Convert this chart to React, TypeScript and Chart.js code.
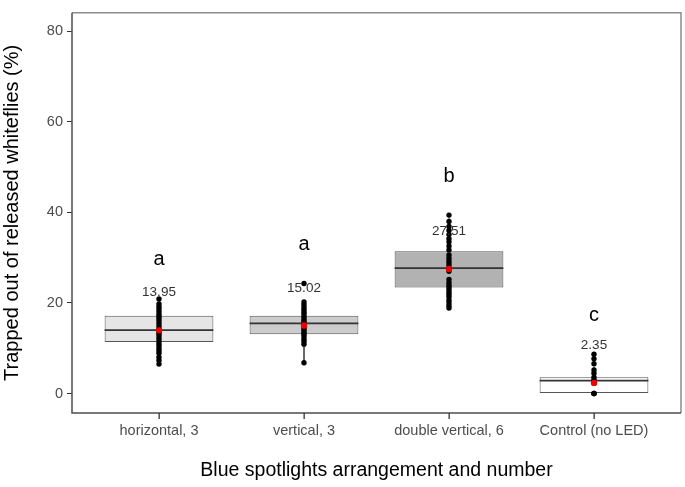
import { useEffect, useRef } from "react";
import { Chart, registerables } from "chart.js";

Chart.register(...registerables);

const categories = ["horizontal, 3", "vertical, 3", "double vertical, 6", "Control (no LED)"];
const groupLetters = ["a", "a", "b", "c"];
const means = [13.95, 15.02, 27.51, 2.35];
const q1 = [11.4, 13.1, 23.4, 0];
const medians = [14.0, 15.5, 27.7, 2.85];
const q3 = [17.2, 17.2, 31.4, 3.6];
const whiskerLow = [6.5, 6.8, 18.9, 0];
const whiskerHigh = [20.9, 20.2, 39.4, 8.7];
const maxPoints = [20.9, 24.3, 39.4, 8.7];

const pointsHorizontal = [20.9, 19.8, 19.2, 18.7, 18.1, 17.5, 17.0, 16.5, 16.0, 15.4, 14.8, 14.2, 13.7, 13.3, 12.8, 12.2, 11.6, 11.0, 10.5, 9.9, 9.4, 8.9, 8.0, 7.3, 6.5];
const pointsVertical = [24.3, 20.2, 19.6, 19.0, 18.5, 18.0, 17.6, 17.1, 16.7, 16.2, 15.8, 15.3, 14.9, 14.4, 14.0, 13.5, 13.1, 12.6, 12.0, 11.5, 10.9, 6.8];
const pointsDoubleVertical = [39.4, 38.0, 36.9, 36.0, 35.1, 34.2, 33.5, 32.6, 31.7, 30.6, 29.9, 29.2, 28.6, 28.0, 27.0, 25.2, 24.5, 23.9, 23.4, 22.9, 22.3, 21.8, 21.3, 20.6, 20.0, 19.4, 18.9];
const pointsControl = [8.7, 7.7, 6.6, 5.2, 4.5, 3.6, 3.0, 2.8, 2.5, 0, 0, 0];

const yTicks = [0, 20, 40, 60, 80];
const yMin = -4.3;
const yMax = 84.1;

const FONT = "'Liberation Sans', Arial, sans-serif";

const annotationPlugin = {
  id: "annotations",
  afterDraw(chart: any) {
    const { ctx, chartArea, scales } = chart;
    const xs = scales.x;
    const ys = scales.y;
    ctx.save();
    ctx.lineWidth = 1.5;
    ctx.strokeStyle = "#8c8c8c";
    ctx.beginPath();
    ctx.moveTo(chartArea.left, chartArea.top);
    ctx.lineTo(chartArea.right, chartArea.top);
    ctx.lineTo(chartArea.right, chartArea.bottom);
    ctx.stroke();
    ctx.strokeStyle = "#4d4d4d";
    ctx.beginPath();
    ctx.moveTo(chartArea.left, chartArea.top);
    ctx.lineTo(chartArea.left, chartArea.bottom);
    ctx.lineTo(chartArea.right, chartArea.bottom);
    ctx.stroke();

    // x-axis tick marks
    ctx.fillStyle = "#333333";
    categories.forEach((_, i) => {
      const px = Math.round(xs.getPixelForValue(i + 1));
      ctx.fillRect(px - 0.5, Math.round(chartArea.bottom), 1.3, 6);
    });

    ctx.textAlign = "center";
    ctx.textBaseline = "alphabetic";
    categories.forEach((_, i) => {
      const px = xs.getPixelForValue(i + 1);
      ctx.font = `13.5px ${FONT}`;
      ctx.fillStyle = "#333333";
      ctx.fillText(means[i].toFixed(2), px, ys.getPixelForValue(means[i]) - 34);
      ctx.font = `20px ${FONT}`;
      ctx.fillStyle = "#000000";
      ctx.fillText(groupLetters[i], px, ys.getPixelForValue(maxPoints[i]) - 33.5);
    });
    ctx.restore();
  },
};

export default function App() {
  const ref = useRef<HTMLCanvasElement>(null);

  useEffect(() => {
    if (!ref.current) return;
    const groups = [pointsHorizontal, pointsVertical, pointsDoubleVertical, pointsControl];
    const pointData: any[] = [];
    groups.forEach((g, i) => g.forEach((v) => pointData.push({ x: i + 1, y: v })));

    const medianData: any[] = [];
    const whiskerData: any[] = [];
    categories.forEach((_, i) => {
      const c = i + 1;
      medianData.push({ x: c - 0.375, y: medians[i] }, { x: c + 0.375, y: medians[i] }, { x: c, y: null });
      whiskerData.push(
        { x: c, y: q3[i] }, { x: c, y: whiskerHigh[i] }, { x: c, y: null },
        { x: c, y: q1[i] }, { x: c, y: whiskerLow[i] }, { x: c, y: null }
      );
    });

    const chart = new Chart(ref.current, {
      type: "bar",
      data: {
        datasets: [
          {
            type: "scatter",
            data: whiskerData,
            showLine: true,
            spanGaps: false,
            borderColor: "#555555",
            borderWidth: 1,
            pointRadius: 0,
            order: 5,
          } as any,
          {
            type: "bar",
            data: categories.map((_, i) => ({ x: i + 1, y: [q1[i], q3[i]] })),
            backgroundColor: ["#e5e5e5", "#cccccc", "#b2b2b2", "#ffffff"],
            borderColor: "#555555",
            borderWidth: 1,
            borderSkipped: false,
            barPercentage: 0.75,
            categoryPercentage: 1,
            order: 4,
          } as any,
          {
            type: "scatter",
            data: medianData,
            showLine: true,
            spanGaps: false,
            borderColor: "#333333",
            borderWidth: 1.8,
            pointRadius: 0,
            order: 3,
          } as any,
          {
            type: "scatter",
            data: pointData,
            backgroundColor: "#000000",
            borderWidth: 0,
            pointRadius: 2.7,
            order: 2,
          } as any,
          {
            type: "scatter",
            data: means.map((m, i) => ({ x: i + 1, y: m })),
            backgroundColor: "#ee0000",
            borderWidth: 0,
            pointRadius: 3.2,
            order: 1,
          } as any,
        ],
      },
      options: {
        animation: false,
        responsive: false,
        layout: { padding: { top: 3, right: 3, left: 0, bottom: 0 } },
        plugins: { legend: { display: false }, tooltip: { enabled: false } },
        scales: {
          x: {
            type: "linear",
            min: 0.4,
            max: 4.6,
            offset: false,
            afterBuildTicks: (s: any) => {
              s.ticks = categories.map((_, i) => ({ value: i + 1 }));
            },
            afterFit: (s: any) => {
              s.height = 74;
            },
            ticks: {
              callback: (v: any) => categories[Number(v) - 1] ?? "",
              color: "#4d4d4d",
              font: { family: FONT, size: 14.5 },
              padding: 9,
              maxRotation: 0,
              autoSkip: false,
            },
            grid: { display: false, drawTicks: false },
            border: { display: false },
            title: {
              display: true,
              text: "Blue spotlights arrangement and number",
              color: "#000000",
              font: { family: FONT, size: 19.5, lineHeight: 1.2 },
              padding: { top: 0, bottom: 5 },
            },
          },
          y: {
            type: "linear",
            min: yMin,
            max: yMax,
            afterBuildTicks: (s: any) => {
              s.ticks = yTicks.map((v) => ({ value: v }));
            },
            afterFit: (s: any) => {
              s.width = 72;
            },
            ticks: {
              color: "#4d4d4d",
              font: { family: FONT, size: 14.5 },
              padding: 4,
            },
            grid: { offset: false, drawOnChartArea: false, drawTicks: true, tickLength: 5, color: "#333333", lineWidth: 1 },
            border: { display: false },
            title: {
              display: true,
              text: "Trapped out of released whiteflies (%)",
              color: "#000000",
              font: { family: FONT, size: 20, lineHeight: 1.2 },
              padding: { top: 0, bottom: 0 },
            },
          },
        },
      },
      plugins: [annotationPlugin],
    } as any);
    return () => chart.destroy();
  }, []);

  return (
    <div style={{ position: "fixed", left: 0, top: 0, width: 685, height: 487, background: "#fff" }}>
      <canvas ref={ref} width={685} height={487} style={{ display: "block" }} />
    </div>
  );
}
